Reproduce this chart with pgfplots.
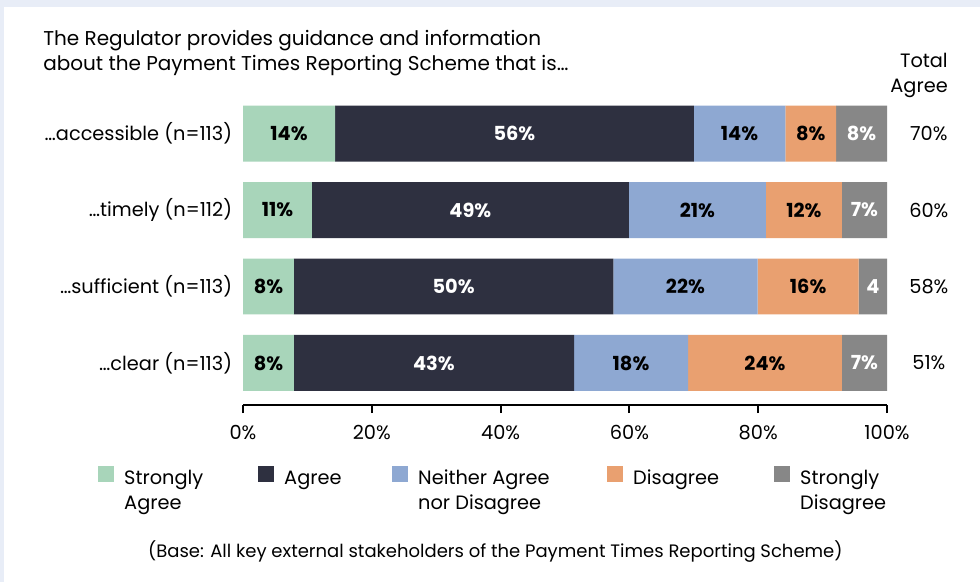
\documentclass[border=0pt]{standalone}
\usepackage{fontspec}
\setmainfont{Poppins}
\usepackage{pgfplots}
\pgfplotsset{compat=1.18}
\usepackage{pgfplotstable}

\definecolor{frame}{RGB}{232,237,247}
\definecolor{cSA}{RGB}{168,213,186}
\definecolor{cAG}{RGB}{46,48,64}
\definecolor{cNE}{RGB}{142,168,210}
\definecolor{cDI}{RGB}{233,160,112}
\definecolor{cSD}{RGB}{135,135,135}

\newcommand{\fs}{\fontsize{14.5}{18.75}\selectfont}

% segment widths (percent) and printed labels, row 3 = top bar
\pgfplotstableread{
row sa   ag   ne   di   sd  saL   agL   neL   diL   sdL
3   14.3 55.7 14.2 7.9  7.9 14\%  56\%  14\%  8\%   8\%
2   10.7 49.2 21.3 11.8 7.0 11\%  49\%  21\%  12\%  7\%
1   7.9  49.6 22.4 15.7 4.4 8\%   50\%  22\%  16\%  4
0   7.9  43.5 17.7 23.9 7.0 8\%   43\%  18\%  24\%  7\%
}\datatable

\begin{document}
\begin{tikzpicture}
\useasboundingbox (0,0) rectangle (735pt,-436.5pt);
\fill[frame] (0,0) rectangle (735pt,-436.5pt);
\fill[white] (3pt,-5.25pt) rectangle (735pt,-436.5pt);

\node[anchor=west, align=left, inner sep=0pt, font=\fontsize{15}{18.75}\selectfont] at (32.25pt,-39.5pt)
  {The Regulator provides guidance and information\\about the Payment Times Reporting Scheme that is…};
\node[anchor=east, align=right, inner sep=0pt, font=\fs] at (711pt,-56.5pt) {Total\\Agree};
\node[inner sep=0pt, font=\fontsize{13.5}{16}\selectfont] at (371.5pt,-414pt)
  {(Base: All key external stakeholders of the Payment Times Reporting Scheme)};

\begin{axis}[
  at={(182.25pt,-303.75pt)}, anchor=south west,
  scale only axis, width=483pt, height=235.1pt,
  xbar stacked, bar width=0.732,
  xmin=0, xmax=100, ymin=-0.55, ymax=3.55,
  clip=false,
  axis x line*=bottom, axis y line*=left,
  x axis line style={line width=1.5pt, black},
  y axis line style={draw=none},
  xtick={0,20,...,100},
  xticklabel={\pgfmathprintnumber{\tick}\%},
  xtick style={line width=1.5pt, black},
  xtick align=outside, major tick length=6pt,
  xticklabel style={font=\fs, yshift=-6pt},
  ytick={0,1,2,3},
  yticklabels={…clear (n=113),…sufficient (n=113),…timely (n=112),…accessible (n=113)},
  ytick style={draw=none},
  yticklabel style={font=\fs, inner sep=0pt, xshift=-8pt},
  /pgf/number format/assume math mode=true,
  point meta=explicit symbolic,
  nodes near coords,
  nodes near coords style={anchor=center, font=\fs\bfseries},
  legend columns=5,
  legend style={at={(-0.2252,-0.195)}, anchor=north west, draw=none, fill=none,
    inner sep=0pt, font=\fs, nodes={inner sep=0pt},
    /tikz/every odd column/.append style={column sep=7.5pt},
    /tikz/every even column/.append style={column sep=0pt}},
  legend cell align=left,
  legend image code/.code={\fill[#1] (0pt,-3pt) rectangle (12pt,9pt);},
]
\addplot[fill=cSA, draw=none, every node near coord/.append style={text=black}]
  table[x=sa, y=row, meta=saL] {\datatable};
\addplot[fill=cAG, draw=none, every node near coord/.append style={text=white}]
  table[x=ag, y=row, meta=agL] {\datatable};
\addplot[fill=cNE, draw=none, every node near coord/.append style={text=black}]
  table[x=ne, y=row, meta=neL] {\datatable};
\addplot[fill=cDI, draw=none, every node near coord/.append style={text=black}]
  table[x=di, y=row, meta=diL] {\datatable};
\addplot[fill=cSD, draw=none, every node near coord/.append style={text=white}]
  table[x=sd, y=row, meta=sdL] {\datatable};
\legend{\parbox[t]{100.5pt}{Strongly\\Agree},
  \parbox[t]{81pt}{Agree},
  \parbox[t]{141.75pt}{Neither Agree\\nor Disagree},
  \parbox[t]{105.75pt}{Disagree},
  \parbox[t]{70pt}{Strongly\\Disagree}}

\node[font=\fs] at (axis cs:106.5,3) {70\%};
\node[font=\fs] at (axis cs:106.5,2) {60\%};
\node[font=\fs] at (axis cs:106.5,1) {58\%};
\node[font=\fs] at (axis cs:106.5,0) {51\%};
\end{axis}
\end{tikzpicture}
\end{document}
